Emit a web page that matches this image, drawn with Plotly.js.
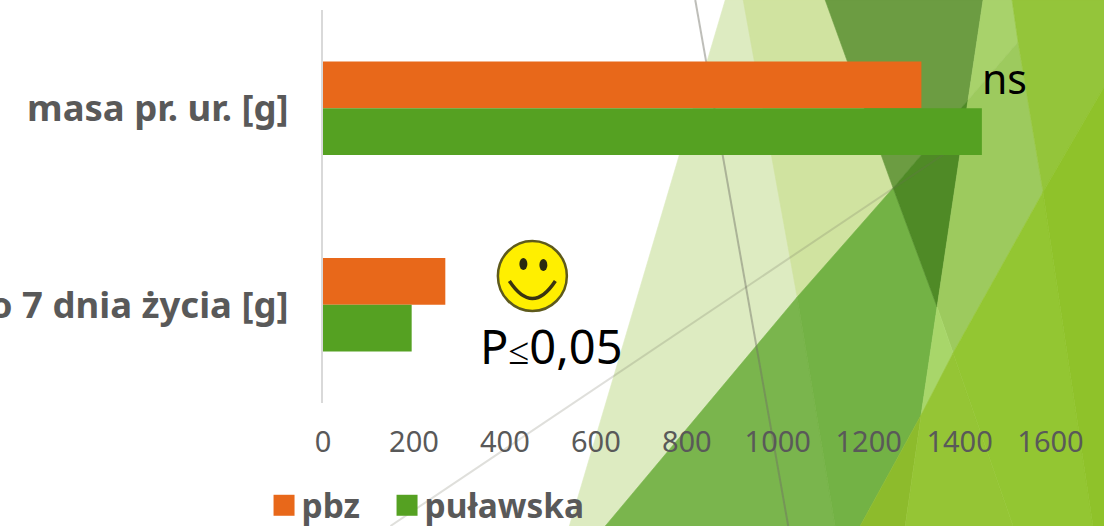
<!DOCTYPE html>
<html><head><meta charset="utf-8">
<script src="https://cdn.plot.ly/plotly-3.0.1.min.js"></script>
<style>html,body{margin:0;padding:0;background:#fff;overflow:hidden}#c{width:1104px;height:526px}</style>
</head><body><div id="c"></div>
<script>
const categories = ["masa pr. ur. [g]", "do 7 dnia życia [g]"];
const pbz = [1316, 269];
const pulawska = [1449, 195];
const seriesNames = ["pbz", "puławska"];
const xTicks = [0, 200, 400, 600, 800, 1000, 1200, 1400, 1600];

const W = 1104, H = 526, L = 322.5, T = 10, B = 403;
const PXPERUNIT = 0.455;
const fx = px => (px - L) / (W - L);
const fy = py => (B - py) / (B - T);

// decorative theme background: [fill, polygon in page pixels]
const facets = [
  ["#DDEBC1", [[725,0],[825,0],[893,188],[835,526],[569,526]]],
  ["#D0E3A0", [[743,0],[825,0],[893,188],[797,297]]],
  ["#7AB54D", [[605,526],[797,297],[835,526]]],
  ["#73B245", [[797,297],[893,188],[937,307],[921,415],[860,526],[835,526]]],
  ["#6C9C42", [[825,0],[983,0],[968,100],[893,188]]],
  ["#4F8A26", [[893,188],[968,100],[937,307]]],
  ["#A8D26B", [[983,0],[1012,0],[1018,42],[968,100]]],
  ["#9DCA5E", [[968,100],[1018,42],[1043,192],[953,353],[937,307]]],
  ["#A8D66A", [[937,307],[953,353],[921,415]]],
  ["#94C53A", [[1012,0],[1104,0],[1104,87],[1043,192],[1018,42]]],
  ["#8DBB2C", [[860,526],[921,415],[905,526]]],
  ["#95C535", [[921,415],[953,353],[1013,526],[905,526]]],
  ["#93C632", [[953,353],[1043,192],[1093,526],[1013,526]]],
  ["#8FC22A", [[1043,192],[1104,87],[1104,526],[1093,526]]]
];
const rules = [
  ["rgba(110,110,100,0.45)", [[695,0],[788,526]]],
  ["rgba(110,110,90,0.22)", [[390,526],[968,138]]]
];
const toPath = pts => pts.map((p,i)=>(i?"L":"M")+fx(p[0])+","+fy(p[1])).join(" ");
const shapes = [];
facets.forEach(f => shapes.push({type:"path",xref:"paper",yref:"paper",layer:"below",path:toPath(f[1])+" Z",fillcolor:f[0],line:{color:f[0],width:0.6}}));
rules.forEach(r => shapes.push({type:"path",xref:"paper",yref:"paper",layer:"below",path:toPath(r[1]),line:{color:r[0],width:2}}));

// smiley
const circle = (cx,cy,rx,ry,fill,lc,lw)=>({type:"circle",xref:"paper",yref:"paper",layer:"above",
  x0:fx(cx-rx),x1:fx(cx+rx),y0:fy(cy+ry),y1:fy(cy-ry),fillcolor:fill,line:lc?{color:lc,width:lw}:{width:0}});
shapes.push(circle(532,276,34.5,35,"#FFEF00","#5E5A1C",2.5));
shapes.push(circle(523,264,4,6,"#2A2A10"));
shapes.push(circle(543,265,4,6,"#2A2A10"));
shapes.push({type:"path",xref:"paper",yref:"paper",layer:"above",
  path:`M${fx(509)},${fy(281)} Q${fx(532)},${fy(316)} ${fx(555)},${fy(281)}`,line:{color:"#3A3410",width:3.5}});

const textCol = "#595959";
const data = [
  {type:"bar",orientation:"h",name:seriesNames[0],y:categories,x:pbz,marker:{color:"#E8681A"}},
  {type:"bar",orientation:"h",name:seriesNames[1],y:categories,x:pulawska,marker:{color:"#55A122"}}
];
const layout = {
  width:W,height:H,autosize:false,
  margin:{l:L,r:0,t:T,b:H-B,pad:0},
  paper_bgcolor:"#fff",plot_bgcolor:"rgba(0,0,0,0)",
  barmode:"group",bargap:0.523,bargroupgap:0,
  shapes,
  showlegend:true,
  legend:{orientation:"h",x:fx(261),xanchor:"left",y:fy(525),yanchor:"bottom",
    entrywidth:78,entrywidthmode:"pixels",
    bgcolor:"rgba(0,0,0,0)",font:{family:"Noto Sans",size:33.5,color:textCol,weight:700},
    itemclick:false,itemdoubleclick:false},
  xaxis:{range:[0,(W-L)/PXPERUNIT],tickvals:xTicks,ticktext:xTicks.map(String),showgrid:false,zeroline:false,showline:false,
    ticks:"outside",ticklen:13,tickcolor:"rgba(0,0,0,0)",
    tickfont:{family:"Noto Sans",size:29,color:textCol}},
  yaxis:{autorange:"reversed",showgrid:false,zeroline:false,showline:true,linecolor:"#D9D9D9",linewidth:2,
    ticks:"outside",ticklen:25,tickcolor:"rgba(0,0,0,0)",
    tickfont:{family:"Noto Sans",size:36.5,color:textCol,weight:700}},
  annotations:[
    {xref:"paper",yref:"paper",x:fx(1004),y:fy(78),text:"ns",showarrow:false,xanchor:"center",yanchor:"middle",
     font:{family:"Noto Sans",size:41,color:"#000"}},
    {xref:"paper",yref:"paper",x:fx(551),y:fy(346),text:"P<span style='font-size:38px'>≤</span>0,05",showarrow:false,xanchor:"center",yanchor:"middle",
     font:{family:"Noto Sans",size:47,color:"#000"}}
  ]
};
Plotly.newPlot("c",data,layout,{displayModeBar:false,staticPlot:true}).then(()=>{
  document.querySelectorAll(".legend .legendpoints path").forEach(p=>{
    const b=p.getBBox(), s=1.75, cx=b.x+b.width/2+2.5, cy=b.y+b.height/2;
    p.setAttribute("d","M"+(cx-6*s)+","+(cy-6*s)+"H"+(cx+6*s)+"V"+(cy+6*s)+"H"+(cx-6*s)+"Z");
  });
  document.querySelectorAll(".legend, .legend [clip-path]").forEach(n=>n.removeAttribute("clip-path"));
  const lg=document.querySelector(".legend");
  lg.setAttribute("transform",lg.getAttribute("transform")+" translate(0,9)");
});
</script></body></html>
